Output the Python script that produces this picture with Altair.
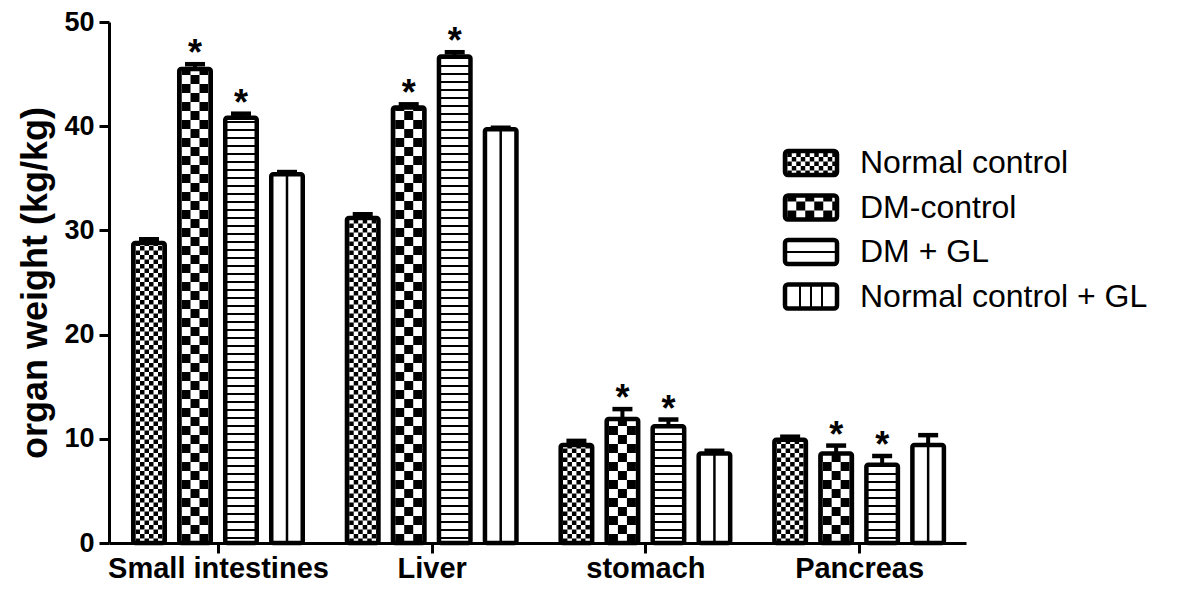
import altair as alt
import pandas as pd

# ---------------- data ----------------
organs = ["Small intestines", "Liver", "stomach", "Pancreas"]
groups = ["Normal control", "DM-control", "DM + GL", "Normal control + GL"]
mean_nc = [28.8, 31.2, 9.4, 9.9]
mean_dm = [45.5, 41.8, 11.9, 8.6]
mean_dmgl = [40.8, 46.7, 11.2, 7.5]
mean_ncgl = [35.4, 39.7, 8.6, 9.4]
sem_nc = [0.35, 0.35, 0.4, 0.3]
sem_dm = [0.45, 0.3, 0.95, 0.75]
sem_dmgl = [0.4, 0.4, 0.65, 0.85]
sem_ncgl = [0.2, 0.15, 0.25, 0.95]
star_nc = [False, False, False, False]
star_dm = [True, True, True, True]
star_dmgl = [True, True, True, True]
star_ncgl = [False, False, False, False]
y_ticks = [0, 10, 20, 30, 40, 50]
y_title = "organ weight (kg/kg)"

means = [mean_nc, mean_dm, mean_dmgl, mean_ncgl]
sems = [sem_nc, sem_dm, sem_dmgl, sem_ncgl]
stars = [star_nc, star_dm, star_dmgl, star_ncgl]
patterns = ["fine", "checker", "hlines", "vline"]

# ---------------- layout ----------------
W, H = 857, 521
X_DOMAIN = [-0.51, 3.5]
Y_DOMAIN = [0, 50]
PXX = W / (X_DOMAIN[1] - X_DOMAIN[0])
PXY = H / (Y_DOMAIN[1] - Y_DOMAIN[0])
STEP = 46 / PXX
BAR_W = 31.5 / PXX
CAP_HALF = 10 / PXX
FONT = "Liberation Sans"

# ---------------- bars ----------------
rows = []
for si, g in enumerate(groups):
    for gi, o in enumerate(organs):
        cx = gi + (si - 1.5) * STEP
        m = means[si][gi]
        s = sems[si][gi]
        rows.append(dict(organ=o, group=g, cx=cx, x1=cx - BAR_W / 2, x2=cx + BAR_W / 2,
                         zero=0.0, mean=m, top=m + s, c1=cx - CAP_HALF, c2=cx + CAP_HALF,
                         star="*" if stars[si][gi] else "", pat=patterns[si]))
bars = pd.DataFrame(rows)


def pattern_cells(kind, wpx, hpx):
    """cells in pixel coords relative to bottom-left of a rect (y up)"""
    cells = []
    if kind in ("fine", "checker"):
        c = 4.5 if kind == "fine" else 9.0
        off = 2.25
        k = -1
        while off + k * c < wpx:
            xa, xb = max(0, off + k * c), min(wpx, off + (k + 1) * c)
            j = 0
            while j * c < hpx:
                ya, yb = j * c, min(hpx, (j + 1) * c)
                if (j + k) % 2 == 0 and xb > xa:
                    cells.append((xa, xb, ya, yb))
                j += 1
            k += 1
    elif kind == "hlines":
        per, th = 8.0, 2.0
        j = 0
        while j * per + 4 < hpx:
            ya = j * per + 4
            cells.append((0, wpx, ya, min(hpx, ya + th)))
            j += 1
    elif kind == "vline":
        cells.append((wpx / 2 - 1.25, wpx / 2 + 1.25, 0, hpx))
    return cells


prow = []
for r in rows:
    wpx = (r["x2"] - r["x1"]) * PXX
    hpx = r["mean"] * PXY
    for xa, xb, ya, yb in pattern_cells(r["pat"], wpx, hpx):
        prow.append(dict(px1=r["x1"] + xa / PXX, px2=r["x1"] + xb / PXX,
                         py1=ya / PXY, py2=yb / PXY))
pat_df = pd.DataFrame(prow)

# ---------------- legend (plot-pixel layout -> data units) ----------------
def dx(px):
    return X_DOMAIN[0] + px / PXX


def dy(py):
    return (H - py) / PXY


LEG_X, LEG_W, LEG_H = 676, 52, 24
leg_rows, leg_cells = [], []
for i, g in enumerate(groups):
    cy = 141 + i * 44.5
    top = cy - LEG_H / 2
    leg_rows.append(dict(group=g, x1=dx(LEG_X), x2=dx(LEG_X + LEG_W), y1=dy(top), y2=dy(top + LEG_H),
                         tx=dx(751), ty=dy(cy)))
    kind = patterns[i]
    if kind == "vline":
        cl = [(x - 1, x + 1, 0, LEG_H) for x in (LEG_W * 0.25 + 2, LEG_W * 0.5, LEG_W * 0.75 - 2)]
    elif kind == "hlines":
        cl = [(0, LEG_W, LEG_H / 2 - 1, LEG_H / 2 + 1)]
    else:
        cl = pattern_cells(kind, LEG_W, LEG_H)
    for xa, xb, ya, yb in cl:
        leg_cells.append(dict(px1=dx(LEG_X + xa), px2=dx(LEG_X + xb),
                              py1=dy(top + LEG_H - ya), py2=dy(top + LEG_H - yb)))
leg_df = pd.DataFrame(leg_rows)
leg_cell_df = pd.DataFrame(leg_cells)

# ---------------- encodings ----------------
label_expr = "[" + ",".join("'" + o + "'" for o in organs) + "][datum.value]"
X_AX = alt.Axis(values=[0, 1, 2, 3], labelExpr=label_expr, title=None, grid=False,
                labelFontSize=29, labelFont=FONT, labelFontWeight="bold", labelColor="black",
                tickSize=10, tickWidth=3, tickColor="black", domainWidth=3, domainColor="black",
                labelPadding=1, labelOverlap=False, labelFlush=False, labelLimit=0)
Y_AX = alt.Axis(values=y_ticks, title=y_title, grid=False,
                labelFontSize=27, labelFont=FONT, labelFontWeight="bold", labelColor="black",
                tickSize=10, tickWidth=3, tickColor="black", domainWidth=3, domainColor="black",
                labelPadding=5, titleFont=FONT, titleFontSize=36, titleFontWeight="bold",
                titleColor="black", titlePadding=9, titleLimit=0)
XS = alt.Scale(domain=X_DOMAIN, nice=False, zero=False)
YS = alt.Scale(domain=Y_DOMAIN, nice=False)


def X(f):
    return alt.X(f + ":Q", scale=XS, axis=X_AX)


def Y(f):
    return alt.Y(f + ":Q", scale=YS, axis=Y_AX)


base = alt.Chart(bars)

fill_layer = base.mark_rect(fill="white", stroke=None).encode(
    x=X("x1"), x2="x2", y=Y("mean"), y2="zero")

pat_layer = alt.Chart(pat_df).mark_rect(fill="black", stroke=None).encode(
    x=X("px1"), x2="px2", y=Y("py1"), y2="py2")

outline = base.mark_rect(fill="white", fillOpacity=0, stroke="black", strokeWidth=4.5,
                         cornerRadius=2).encode(
    x=X("x1"), x2="x2", y=Y("mean"), y2="zero")

err = base.mark_rule(color="black", strokeWidth=4).encode(
    x=X("cx"), y=Y("mean"), y2="top")

cap = base.mark_rule(color="black", strokeWidth=4.5).encode(
    x=X("c1"), x2="c2", y=Y("top"))

star = base.transform_filter("datum.star != ''").mark_text(
    fontSize=36, fontWeight="bold", font=FONT, color="black", baseline="alphabetic", dy=1
).encode(x=X("cx"), y=Y("top"), text="star:N")

leg_fill = alt.Chart(leg_df).mark_rect(fill="white").encode(
    x=X("x1"), x2="x2", y=Y("y1"), y2="y2")
leg_pat = alt.Chart(leg_cell_df).mark_rect(fill="black").encode(
    x=X("px1"), x2="px2", y=Y("py1"), y2="py2")
leg_out = alt.Chart(leg_df).mark_rect(fill="white", fillOpacity=0, stroke="black",
                                      strokeWidth=4.5, cornerRadius=3).encode(
    x=X("x1"), x2="x2", y=Y("y1"), y2="y2")
leg_txt = alt.Chart(leg_df).mark_text(align="left", baseline="middle", fontSize=32,
                                      font=FONT, color="black").encode(
    x=X("tx"), y=Y("ty"), text="group:N")

chart = alt.layer(fill_layer, pat_layer, outline, err, cap, star,
                  leg_fill, leg_pat, leg_out, leg_txt).properties(
    width=W, height=H,
    autosize=alt.AutoSizeParams(type="none"),
    padding={"left": 101, "top": 14, "right": 211, "bottom": 43},
    background="white",
).configure_view(stroke=None)

chart.save("out.html", embed_options={"renderer": "svg", "actions": False})
